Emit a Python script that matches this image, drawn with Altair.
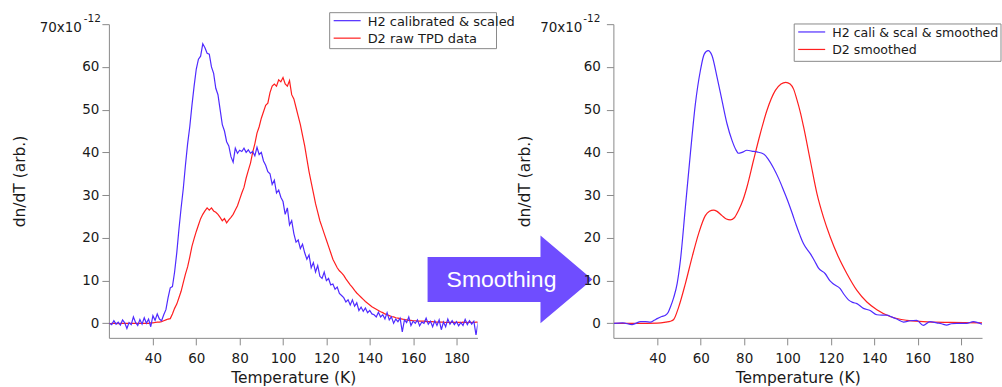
import altair as alt
import pandas as pd

# ---------------- data ----------------
T_RAW = list(range(20, 191))
H2_RAW = [
    0.0, -0.3, 0.6, -0.2, 0.3, -0.4, 0.8, 0.1, -1.2, 0.2,
    -0.3, 1.5, 0.2, -0.5, 0.9, -0.2, 1.3, 0.0, 1.0, -0.8,
    1.8, 0.7, 2.2, 1.0, 0.6, 2.0, 3.2, 6.0, 8.3, 8.6,
    12.0, 16.5, 22.0, 27.0, 31.5, 37.0, 42.0, 46.0, 51.0, 55.5,
    59.5, 61.8, 62.5, 65.4, 64.5, 63.2, 63.0, 60.0, 58.5, 55.0,
    53.5, 50.0, 46.5, 45.0, 42.5, 41.5, 39.0, 37.7, 41.0, 39.8,
    40.5, 40.2, 41.0, 40.0, 40.6, 39.8, 40.2, 39.2, 41.2, 39.5,
    40.0, 38.0, 37.0, 35.5, 35.0, 32.5, 33.5, 30.5, 31.2, 29.5,
    28.5, 25.5, 27.0, 23.0, 24.0, 21.0, 19.0, 19.5, 17.5, 18.5,
    16.5, 15.0, 16.0, 13.0, 14.2, 12.0, 13.5, 11.0, 10.5, 12.0,
    10.0, 10.5, 9.0, 9.2, 8.0, 8.5, 7.0, 6.5, 6.0, 5.0,
    5.5, 4.3, 5.5, 4.0, 4.8, 3.0, 3.8, 2.8, 3.6, 2.5,
    3.0, 2.2, 2.0, 1.5, 2.6, 1.5, 2.0, 1.0, 2.5, 0.8,
    1.5, 0.0, 1.0, 0.4, 1.2, -2.0, 0.8, 0.2, 1.5, -0.5,
    0.5, 0.0, 0.8, -0.6, 0.3, 0.0, 1.2, -0.2, 0.5, -0.8,
    0.6, -0.5, 0.8, -1.5, 0.3, -0.8, 1.0, -0.2, 0.6, -0.3,
    0.4, -0.6, 0.2, -0.5, 0.9, -0.3, 0.6, -0.2, 0.5, -2.7,
    0.3,
]
D2_RAW = [
    -0.1, 0.0, 0.0, 0.0, -0.1, 0.0, 0.0, 0.0, 0.0, 0.0,
    0.0, 0.0, 0.0, 0.0, 0.0, 0.0, 0.0, 0.0, 0.0, 0.1,
    0.1, 0.2, 0.3, 0.3, 0.4, 0.6, 0.8, 1.0, 1.1, 2.2,
    3.5, 4.5, 6.0, 7.5, 9.5, 11.5, 13.2, 15.5, 18.0, 19.8,
    21.5, 23.0, 24.5, 25.5, 26.3, 27.0, 26.5, 27.0, 26.3, 26.0,
    25.5, 24.8, 24.0, 24.5, 23.5, 24.2, 24.8, 25.5, 26.5, 27.5,
    29.0, 30.5, 31.8, 34.0, 35.8, 37.5, 40.0, 42.0, 44.5, 46.0,
    48.0, 49.5, 51.0, 51.5, 54.0, 55.5, 56.0, 55.5, 57.0, 56.5,
    57.5, 56.0, 55.5, 56.8, 53.5, 52.5, 50.5, 48.5, 46.5, 44.0,
    41.5, 38.5, 35.5, 33.0, 30.5, 28.0, 26.0, 24.0, 22.5, 21.0,
    19.5, 18.0, 16.5, 15.0, 14.0, 13.0, 12.3, 11.8, 11.2, 10.4,
    9.7, 9.0, 8.4, 7.7, 7.1, 6.6, 6.1, 5.6, 5.1, 4.7,
    4.3, 3.9, 3.6, 3.3, 3.0, 2.7, 2.5, 2.2, 2.0, 1.8,
    1.6, 1.5, 1.3, 1.2, 1.1, 1.0, 0.9, 0.8, 0.7, 0.7,
    0.6, 0.6, 0.5, 0.5, 0.5, 0.5, 0.4, 0.4, 0.4, 0.4,
    0.3, 0.3, 0.3, 0.3, 0.3, 0.2, 0.2, 0.2, 0.2, 0.2,
    0.2, 0.2, 0.2, 0.3, 0.2, 0.2, 0.3, 0.2, 0.2, 0.3,
    0.3,
]
SM_H2_T = [20, 24, 28.3, 30, 32.2, 34.5, 36.8, 38.5, 39.9, 42, 43.7, 45, 46, 47.5,
           49.1, 50.6, 52.9, 55.2, 57.5, 59.8, 61.6, 63.4, 65.2, 67.5, 69.8, 72.1,
           74.4, 76, 77.4, 79, 81.3, 83.5, 85.9, 89, 91, 93.6, 96, 98.2, 100, 102,
           104, 105.9, 107.4, 110.5, 112.5, 114.3, 117.4, 119.5, 121.2, 124.3, 126,
           128.1, 130, 132, 135, 138.1, 141.2, 143.5, 145.8, 148, 150.4, 153.5,
           156.5, 159.6, 162.6, 165.7, 168.8, 171, 173.4, 175.5, 178, 182.6, 185.7,
           189.7]
SM_H2 = [0.0, 0.1, -0.3, 0.0, 0.4, 0.4, 0.3, 0.7, 1.1, 1.6, 1.9, 2.6, 3.8, 6.0,
         9.3, 14.7, 27.2, 39.7, 51.3, 59.1, 63.0, 63.8, 62.6, 57.6, 52.1, 46.7,
         42.8, 40.8, 39.8, 40.0, 40.5, 40.3, 40.1, 39.6, 38.5, 36.3, 33.8, 31.1, 28.8, 26.0,
         23.0, 20.4, 18.6, 16.3, 14.6, 12.9, 11.6, 10.0, 9.2, 8.1, 6.8,
         5.5, 4.9, 4.6, 3.5, 3.0, 2.0, 1.9, 1.9, 1.5, 1.0, 0.3,
         0.6, 0.7, -0.5, 0.4, 0.1, -0.1, -0.4, -0.1, 0.0, 0.0, 0.4,
         -0.2]
SM_D2_T = [20, 30, 40, 44, 46, 47.5, 49.8, 52.9, 56, 59, 62.1, 64, 65.9, 67.5, 69.8,
           71.8, 73.6, 75.5, 77.4, 79.5, 81.3, 84.3, 87.4, 90.5, 94.4, 97, 99.2,
           101.2, 102.8, 104.3, 106, 107.4, 110.5, 113.6, 116.6, 119.7, 123.5,
           127.4, 132, 136.6, 141.2, 147.3, 155, 162.6, 175, 189.7]
SM_D2 = [0, 0, 0.05, 0.3, 0.5, 0.9, 3.8, 9.3, 15.5, 21.0, 25.2, 26.2, 26.5, 26.2, 25.2,
         24.4, 24.2, 24.7, 26.4, 28.9, 31.9, 38.1, 44.3, 49.8, 54.5, 56.0, 56.4,
         56.0, 54.8, 52.4, 49.2, 46.0, 38.1, 30.3, 24.8, 20.2, 15.5,
         11.6, 7.7, 5.0, 3.2, 1.6, 0.7, 0.4, 0.2, 0.1]

X_TICKS = [40, 60, 80, 100, 120, 140, 160, 180]
Y_TICKS = [0, 10, 20, 30, 40, 50, 60, 70]
X_DOMAIN = [19.7, 189.7]
Y_DOMAIN = [-3.4, 70]
LEFT_LEGEND = ["H2 calibrated & scaled", "D2 raw TPD data"]
RIGHT_LEGEND = ["H2 cali & scal & smoothed", "D2 smoothed"]
ARROW_TEXT = "Smoothing"
X_TITLE = "Temperature (K)"
Y_TITLE = "dn/dT (arb.)"

# ---------------- style ----------------
FONT = "DejaVu Sans"
BLUE = "#4f2bff"
RED = "#ff1f1f"
ARROW = "#6f4dff"
AX = "#8a8a8a"
TXT = "#1a1a1a"
W, H = 369, 314
ARROW_PATH = "M -1 -0.273 L 0.37 -0.273 L 0.37 -0.533 L 1 0 L 0.37 0.533 L 0.37 0.273 L -1 0.273 Z"

xs = alt.Scale(domain=X_DOMAIN, nice=False, zero=False)
ys = alt.Scale(domain=Y_DOMAIN, nice=False, zero=False)


def x_axis():
    return alt.Axis(values=X_TICKS, title=X_TITLE, grid=False, domainColor=AX, tickColor=AX,
                    tickSize=7, labelPadding=7, labelFont=FONT, labelFontSize=13.5, labelColor=TXT,
                    labelFlush=False, labelOverlap=False,
                    titleFont=FONT, titleFontSize=15.5, titleFontWeight="normal", titleColor=TXT,
                    titleX=184.5, titleY=45, titleBaseline="alphabetic", titleAlign="center")


def y_axis(pad):
    return alt.Axis(values=Y_TICKS, title=Y_TITLE, grid=False, domainColor=AX, tickColor=AX,
                    tickSize=7, labelPadding=pad, labelFont=FONT, labelFontSize=13.5, labelColor=TXT,
                    labelFlush=False, labelOverlap=False,
                    labelExpr="datum.value == 70 ? '' : datum.label",
                    titleFont=FONT, titleFontSize=15.5, titleFontWeight="normal", titleColor=TXT,
                    titleAngle=270, titleX=-89, titleY=157, titleBaseline="middle", titleAlign="center")


def line(t, v, color, interp, pad):
    df = pd.DataFrame({"T": t, "v": v})
    return alt.Chart(df).mark_line(color=color, strokeWidth=1.2, clip=True, interpolate=interp).encode(
        x=alt.X("T:Q", scale=xs, axis=x_axis()),
        y=alt.Y("v:Q", scale=ys, axis=y_axis(pad)),
    )


one = pd.DataFrame({"a": [0]})


def legend(texts, x0, x1, y0, y1, fs):
    box = alt.Chart(one).mark_rect(fill="white", stroke=AX, strokeWidth=1).encode(
        x=alt.value(x0), x2=alt.value(x1), y=alt.value(y0), y2=alt.value(y1))
    layers = [box]
    yl = [y0 + 8, y0 + 25.5]
    for txt, col, yy in zip(texts, [BLUE, RED], yl):
        layers.append(alt.Chart(one).mark_rule(color=col, strokeWidth=1.2).encode(
            x=alt.value(x0 + 4), x2=alt.value(x0 + 31), y=alt.value(yy)))
        layers.append(alt.Chart(one).mark_text(text=txt, font=FONT, fontSize=fs, color=TXT,
                                               align="left", baseline="middle").encode(
            x=alt.value(x0 + 38), y=alt.value(yy + 1)))
    return layers


def exponent(r1, r2):
    return [
        alt.Chart(one).mark_text(text="70x10", font=FONT, fontSize=13.5, color=TXT, align="right",
                                 baseline="middle", dy=4).encode(x=alt.value(r1), y=alt.value(0)),
        alt.Chart(one).mark_text(text="-12", font=FONT, fontSize=10.5, color=TXT, align="right",
                                 baseline="middle", dy=-5.5).encode(x=alt.value(r2), y=alt.value(0)),
    ]


arrow = alt.Chart(one).mark_point(shape=ARROW_PATH, size=27225, filled=True, fill=ARROW, opacity=1,
                                  strokeWidth=0).encode(x=alt.value(401.5), y=alt.value(255.5))
arrow_text = alt.Chart(one).mark_text(text=ARROW_TEXT, font="Liberation Sans", fontSize=23, color="white",
                                      align="center", baseline="middle").encode(
    x=alt.value(393), y=alt.value(256))
anchor = alt.Chart(one).mark_rect(opacity=0).encode(
    x=alt.value(-108), x2=alt.value(-107), y=alt.value(-23.5), y2=alt.value(-22.5))

left = alt.layer(
    anchor,
    line(T_RAW, D2_RAW, RED, "linear", 3),
    line(T_RAW, H2_RAW, BLUE, "linear", 3),
    *legend(LEFT_LEGEND, 221, 388, -11.5, 24.5, 13),
    *exponent(-27, -8),
    arrow, arrow_text,
).properties(width=W, height=H)

right = alt.layer(
    line(SM_D2_T, SM_D2, RED, "monotone", 6),
    line(SM_H2_T, SM_H2, BLUE, "monotone", 6),
    *legend(RIGHT_LEGEND, 181, 388, -0.2, 37.2, 12.6),
    *exponent(-31, -13),
).properties(width=W, height=H)

chart = alt.hconcat(left, right, spacing=136, bounds="flush").properties(
    padding=0, background="white"
).configure_view(stroke="transparent")

chart.save("out.html", embed_options={"renderer": "svg", "actions": False})
